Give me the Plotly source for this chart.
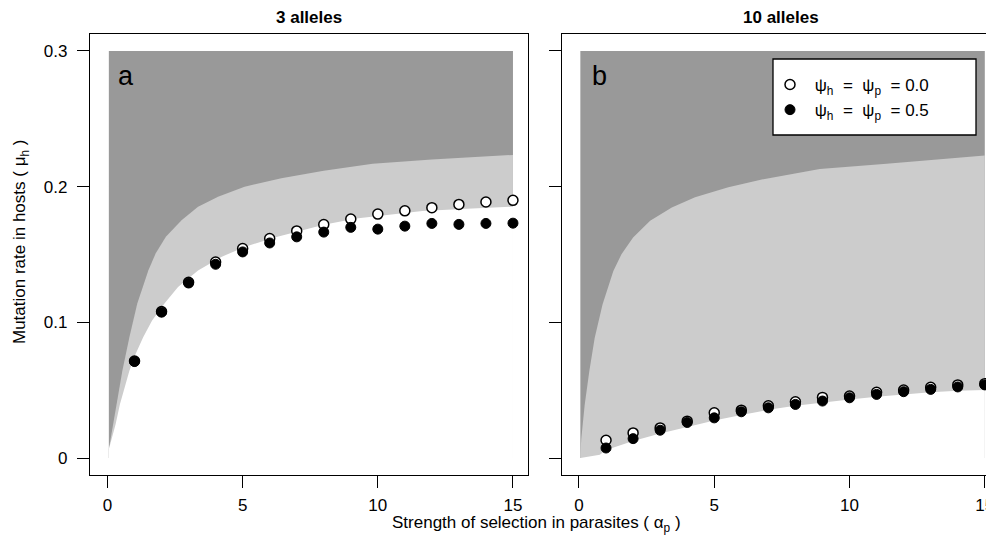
import plotly.graph_objects as go

# the page shows the figure offset by the browser's 8px body margin
OFF = 8
W, H = 994 - OFF, 541 - OFF

# ---------------- data ----------------
alpha = [1, 2, 3, 4, 5, 6, 7, 8, 9, 10, 11, 12, 13, 14, 15]

a_open = [0.0715, 0.108, 0.1295, 0.1445, 0.1544, 0.1618, 0.1674, 0.1721, 0.1761,
          0.1798, 0.1822, 0.1845, 0.1869, 0.1887, 0.1899]
a_filled = [0.0711, 0.1075, 0.129, 0.1428, 0.1519, 0.1585, 0.163, 0.1665, 0.170,
            0.1687, 0.1709, 0.1729, 0.1722, 0.1729, 0.1731]

b_open = [0.0131, 0.0185, 0.0222, 0.0272, 0.0333, 0.0353, 0.0385, 0.0415, 0.0447,
          0.0457, 0.0484, 0.0501, 0.0521, 0.0539, 0.0548]
b_filled = [0.0074, 0.0143, 0.0205, 0.0262, 0.0296, 0.0341, 0.037, 0.0395, 0.042,
            0.0444, 0.0469, 0.0489, 0.0506, 0.0524, 0.0539]

# shaded region extent
region_x = [0.05, 15.0]
region_top = [0.3, 0.3]

# panel a: dark / light boundary
a_upper_x = [0.05, 0.21, 0.34, 0.55, 0.81, 1.1, 1.51, 1.78, 2.16, 2.74, 3.35, 4.09,
             5.07, 6.43, 8.0, 9.81, 12.0, 15.0]
a_upper_y = [0.0064, 0.0249, 0.0397, 0.0644, 0.089, 0.1137, 0.1383, 0.1507, 0.163,
             0.1753, 0.1852, 0.1926, 0.2, 0.2062, 0.2118, 0.2168, 0.22, 0.2234]
# panel a: light / white boundary
a_lower_x = [0.05, 0.3, 0.46, 0.62, 0.81, 1.04, 1.32, 1.65, 2.1, 2.61, 3.35, 4.21,
             5.07, 6.18, 7.0, 8.0, 9.2, 10.5, 11.65, 13.3, 15.0]
a_lower_y = [0.0064, 0.0249, 0.0397, 0.052, 0.0644, 0.0767, 0.089, 0.1014, 0.1137,
             0.126, 0.1383, 0.1482, 0.1556, 0.1625, 0.167, 0.172, 0.1765, 0.1795,
             0.182, 0.1838, 0.1852]

# panel b: dark / light boundary
b_upper_x = [0.05, 0.085, 0.21, 0.38, 0.58, 0.87, 1.27, 1.57, 2.0, 2.63, 3.43, 4.29,
             5.52, 6.87, 8.9, 11.37, 15.0]
b_upper_y = [0.003, 0.0143, 0.039, 0.0637, 0.0884, 0.1131, 0.1378, 0.1501, 0.1625,
             0.1748, 0.1847, 0.1921, 0.1995, 0.2057, 0.2131, 0.2168, 0.223]
# panel b: light / white boundary
b_lower_x = [0.05, 0.77, 1, 2, 3, 4, 5, 6, 7, 8, 9, 10, 11, 12, 13, 14, 15]
b_lower_y = [0.0, 0.0025, 0.006, 0.0125, 0.018, 0.023, 0.0277, 0.0318, 0.0355,
             0.0385, 0.041, 0.0432, 0.0452, 0.047, 0.0484, 0.0495, 0.0502]

x_ticks = [0, 5, 10, 15]
y_ticks = [0, 0.1, 0.2, 0.3]
y_ticklabels = ["0", "0.1", "0.2", "0.3"]

panel_titles = ["3 alleles", "10 alleles"]
panel_letters = ["a", "b"]
legend_labels = ["\u00a0\u03c8<sub>h</sub>\u00a0\u00a0=\u00a0\u00a0\u03c8<sub>p</sub>\u00a0\u00a0= 0.0",
                 "\u00a0\u03c8<sub>h</sub>\u00a0\u00a0=\u00a0\u00a0\u03c8<sub>p</sub>\u00a0\u00a0= 0.5"]

DARK = "#999999"
LIGHT = "#cccccc"
FONT = "Liberation Sans, Arial, sans-serif"

def px(x):
    return min(1.0, (x - OFF) / W)

def py(y):
    return 1 - (y - OFF) / H

fig = go.Figure()

panels = [
    ("x", "y", a_upper_x, a_upper_y, a_lower_x, a_lower_y, a_open, a_filled, True),
    ("x2", "y2", b_upper_x, b_upper_y, b_lower_x, b_lower_y, b_open, b_filled, False),
]

for xa, ya, ux, uy, lx, ly, op, fi, show in panels:
    fig.add_trace(go.Scatter(x=region_x, y=region_top, mode="lines", line=dict(width=0),
                             fill="tozeroy", fillcolor=DARK, xaxis=xa, yaxis=ya,
                             hoverinfo="skip", showlegend=False))
    fig.add_trace(go.Scatter(x=ux, y=uy, mode="lines", line=dict(width=0),
                             fill="tozeroy", fillcolor=LIGHT, xaxis=xa, yaxis=ya,
                             hoverinfo="skip", showlegend=False))
    fig.add_trace(go.Scatter(x=lx, y=ly, mode="lines", line=dict(width=0),
                             fill="tozeroy", fillcolor="white", xaxis=xa, yaxis=ya,
                             hoverinfo="skip", showlegend=False))
    fig.add_trace(go.Scatter(x=alpha, y=op, mode="markers", xaxis=xa, yaxis=ya,
                             name=legend_labels[0], legendgroup="open", showlegend=show,
                             marker=dict(symbol="circle", size=10, color="white",
                                         line=dict(color="black", width=1.5))))
    fig.add_trace(go.Scatter(x=alpha, y=fi, mode="markers", xaxis=xa, yaxis=ya,
                             name=legend_labels[1], legendgroup="filled", showlegend=show,
                             marker=dict(symbol="circle", size=10, color="black",
                                         line=dict(color="black", width=1))))

ydom = [py(475), py(34)]
common_x = dict(tickmode="array", tickvals=x_ticks, ticks="outside", ticklen=12,
                tickwidth=1.3, tickcolor="black", showline=True, linecolor="black",
                linewidth=1.3, showgrid=False, zeroline=False, automargin=False,
                tickfont=dict(size=17, color="black", family=FONT),
                ticklabelstandoff=2, ticklabeloverflow="allow")
common_y = dict(tickmode="array", tickvals=y_ticks, ticktext=y_ticklabels,
                ticks="outside", ticklen=12, tickwidth=1.3, tickcolor="black",
                showline=True, linecolor="black", linewidth=1.3, showgrid=False,
                zeroline=False, range=[-0.0125, 0.3125], domain=ydom, automargin=False,
                tickfont=dict(size=17, color="black", family=FONT),
                ticklabelstandoff=6, ticklabeloverflow="allow")

fig.update_layout(
    width=W, height=H,
    margin=dict(l=0, r=0, t=0, b=0, autoexpand=False),
    paper_bgcolor="white", plot_bgcolor="white",
    font=dict(family=FONT, size=17, color="black"),
    xaxis=dict(common_x, domain=[px(90), px(528)], range=[-0.647, 15.556],
               anchor="y", mirror=True),
    yaxis=dict(common_y, anchor="x", mirror=True),
    xaxis2=dict(common_x, domain=[px(562), 1.0], range=[-0.628, 15.34],
                anchor="y2", mirror=True),
    yaxis2=dict(common_y, anchor="x2", mirror=False, showticklabels=False),
    showlegend=True,
    legend=dict(x=px(770), y=py(67), xanchor="left", yanchor="top",
                bgcolor="rgba(0,0,0,0)", borderwidth=0,
                font=dict(size=17, family=FONT, color="black"),
                tracegroupgap=0),
    shapes=[dict(type="rect", xref="paper", yref="paper",
                 x0=px(773), x1=px(976), y0=py(135), y1=py(59),
                 line=dict(color="black", width=1.3), fillcolor="white", layer="above")],
)

annotations = [
    dict(text="<b>" + panel_titles[0] + "</b>", x=px(309), y=py(17)),
    dict(text="<b>" + panel_titles[1] + "</b>", x=px(781), y=py(17)),
    dict(text="Strength of selection in parasites ( \u03b1<sub>p</sub> )", x=px(536), y=py(524)),
    dict(text="Mutation rate in hosts ( \u03bc<sub>h</sub> )", x=px(21), y=py(242), textangle=-90),
    dict(text=panel_letters[0], x=px(126), y=py(76), font=dict(size=27, family=FONT, color="black")),
    dict(text=panel_letters[1], x=px(599), y=py(76), font=dict(size=27, family=FONT, color="black")),
]
for a in annotations:
    a.setdefault("font", dict(size=17, family=FONT, color="black"))
    a.update(xref="paper", yref="paper", showarrow=False, xanchor="center", yanchor="middle")
fig.update_layout(annotations=annotations)

fig.write_html("out.html")
